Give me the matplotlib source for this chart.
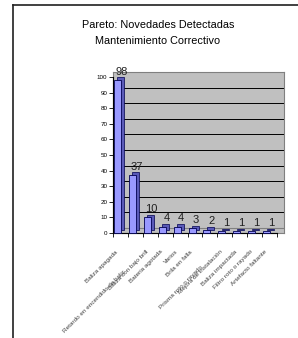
import numpy as np
import matplotlib
matplotlib.use("Agg")
import matplotlib.pyplot as plt
from matplotlib.lines import Line2D
from matplotlib.transforms import ScaledTranslation

plt.rcParams['font.family'] = ['Liberation Sans', 'DejaVu Sans']

# datos
categorias = ["Baliza apagada", "Retardo en encendido de baliz",
              "Baliza con bajo brill", "Bateria agotada", "Varios",
              "Brila en falla", "Prisma roto o rayado",
              "Mejora de instalación", "Baliza impactada",
              "Filtro roto o rayado", "Artefacto faltante"]
valores = [98, 37, 10, 4, 4, 3, 2, 1, 1, 1, 1]
yticks = list(range(0, 101, 10))

W, H = 298, 338
def fx(px):
    return px / W
def fy(py):
    return 1 - py / H

fig = plt.figure(figsize=(W / 100, H / 100), dpi=100)

# marco de la hoja (izquierda y arriba)
fig.add_artist(Line2D([fx(13), fx(13)], [0, fy(5)], color='#202020', lw=1.2))
fig.add_artist(Line2D([fx(13), 1], [fy(5), fy(5)], color='#202020', lw=1.2))

fig.text(fx(158), fy(25), "Pareto: Novedades Detectadas", ha='center', va='center', fontsize=7.8)
fig.text(fx(158), fy(41), "Mantenimiento Correctivo", ha='center', va='center', fontsize=7.8)

# pared del fondo (efecto 3D)
axb = fig.add_axes([fx(113), fy(233), fx(284) - fx(113), fy(72) - fy(233)])
axb.set_facecolor('#c0c0c0')
axb.set_ylim(-5 / 1.56, 100)
axb.set_xlim(0, 1)
axb.set_xticks([])
axb.set_yticks([])
for s in axb.spines.values():
    s.set_color('#808080')
    s.set_linewidth(0.8)
for y in yticks[1:-1]:
    axb.axhline(y, xmin=7 / 171, color='black', lw=0.7)
axb.axhline(0, xmin=7 / 171, color='#808080', lw=0.8)

# ejes frontales
ax = fig.add_axes([fx(113), fy(233), fx(277) - fx(113), fy(77) - fy(233)])
ax.patch.set_alpha(0)
x = np.arange(len(valores))
ax.set_xlim(-0.5, len(valores) - 0.5)
ax.set_ylim(0, 100)
for s in ['top', 'right']:
    ax.spines[s].set_visible(False)
ax.spines['left'].set_linewidth(0.8)
ax.spines['bottom'].set_linewidth(0.8)
ax.set_yticks(yticks)
ax.tick_params(axis='y', labelsize=4.5, length=3, width=0.6, pad=1)
ax.set_xticks([])
ax.set_xticks(np.arange(len(valores) + 1) - 0.5, minor=True)
ax.tick_params(axis='x', which='minor', length=3, width=0.6, labelbottom=False)

xb = x - 0.2
depth = ax.transData + ScaledTranslation(0.035, 0.028, fig.dpi_scale_trans)
ax.bar(xb, valores, width=0.47, color='#5a5ab8', edgecolor='#000050', lw=0.5,
       transform=depth, zorder=2, clip_on=False)
ax.bar(xb, valores, width=0.47, color='#9999ff', edgecolor='#000050', lw=0.6,
       zorder=3, clip_on=False)

for xi, v in zip(xb, valores):
    ax.annotate(str(v), xy=(xi, v), xytext=(3, 2.5), textcoords='offset points',
                ha='center', va='bottom', fontsize=8, color='#202020',
                annotation_clip=False)

# etiquetas de categorías (escalonadas como en el original)
desplaz = {1: (-8, -20), 6: (-5, -16)}
for i, lab in enumerate(categorias):
    dx, dy = desplaz.get(i, (0, 0))
    ax.annotate(lab, xy=(x[i], 0), xytext=((-3 + dx) * 0.72, (-18 + dy) * 0.72),
                textcoords='offset points', rotation=45, rotation_mode='anchor',
                ha='right', va='center', fontsize=4.6, color='#404040',
                annotation_clip=False)

fig.savefig("out.png", dpi=100)
